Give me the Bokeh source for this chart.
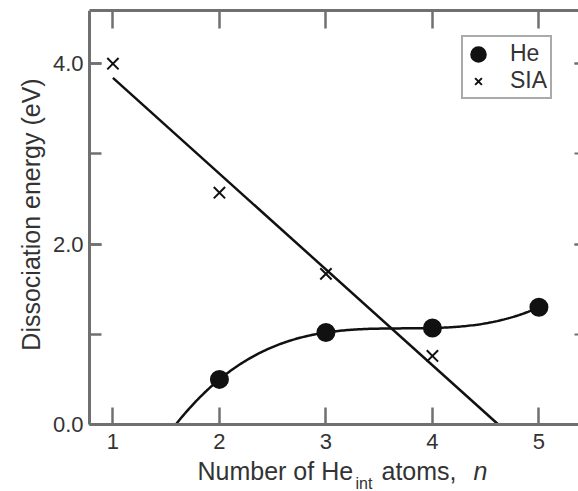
import numpy as np
from bokeh.plotting import figure
from bokeh.models import (Range1d, FixedTicker, SingleIntervalTicker, LinearAxis,
                          Label, Legend, LegendItem, CustomJSTickFormatter)
from bokeh.embed import file_html
from bokeh.resources import INLINE

# ---- data ----
he_n = [2, 3, 4, 5]
he_e = [0.50, 1.02, 1.07, 1.30]
sia_n = [1, 2, 3, 4]
sia_e = [4.00, 2.57, 1.67, 0.76]
x_ticks = [1, 2, 3, 4, 5]

FONT = "Liberation Sans"
AXC = "#707070"
TXT = "#333333"

W, H = 578, 491
BT = 10                 # room above the frame for the top axis
AX_LEFT_PX = 89         # where the left axis sits on the canvas
AX_ZERO_PX = 424        # where y=0 sits on the canvas
PX_X = 106.5            # px per x unit
PX_Y = 414 / 4.59       # px per y unit
XA = 0.78               # x value at the left axis
Y1 = 4.59
X0 = XA - AX_LEFT_PX / PX_X
X1 = XA + (W - AX_LEFT_PX) / PX_X
Y0 = -(H - AX_ZERO_PX) / PX_Y

p = figure(width=W, height=H, output_backend="svg", toolbar_location=None,
           x_range=Range1d(X0, X1), y_range=Range1d(Y0, Y1),
           min_border_left=0, min_border_right=0, min_border_top=BT, min_border_bottom=0)
p.outline_line_color = None
p.grid.visible = False
p.background_fill_color = "white"

# fits drawn from the data arrays
sia_fit = np.polyfit(sia_n, sia_e, 1)
sia_root = -sia_fit[1] / sia_fit[0]
sx = np.array([sia_n[0], sia_root])
p.line(sx, np.polyval(sia_fit, sx), line_color="#111111", line_width=2.5)

he_fit = np.polyfit(he_n, he_e, 3)
roots = [r.real for r in np.roots(he_fit) if abs(r.imag) < 1e-9 and 1 < r.real < he_n[0]]
hx = np.linspace(roots[0], he_n[-1], 200)
p.line(hx, np.polyval(he_fit, hx), line_color="#111111", line_width=2.5)

r_he = p.scatter(he_n, he_e, marker="circle", size=12, line_width=7,
                 fill_color="#111111", line_color="#111111")
r_sia = p.scatter(sia_n, sia_e, marker="x", size=16, line_color="#111111", line_width=2)

# axes
xa = p.xaxis[0]
xa.ticker = FixedTicker(ticks=x_ticks)
xa.fixed_location = 0
xa.bounds = (XA, X1)
ya = p.yaxis[0]
ya.ticker = SingleIntervalTicker(interval=2, num_minor_ticks=2)
ya.formatter = CustomJSTickFormatter(code="return tick.toFixed(1);")
ya.fixed_location = XA
ya.bounds = (0, Y1)
for ax in (xa, ya):
    ax.axis_line_color = AXC
    ax.axis_line_width = 3
    ax.major_tick_line_color = AXC
    ax.major_tick_line_width = 2.5
    ax.minor_tick_line_color = AXC
    ax.minor_tick_line_width = 2.5
    ax.major_tick_out = 0
    ax.minor_tick_out = 0
    ax.major_label_text_font = FONT
    ax.major_label_text_font_size = "22px"
    ax.major_label_text_color = TXT
xa.major_tick_in = 17
xa.minor_tick_in = 0
xa.major_label_standoff = 9
ya.major_tick_in = 12
ya.minor_tick_in = 12
ya.major_label_standoff = 6

top = LinearAxis(ticker=FixedTicker(ticks=x_ticks), bounds=(XA, X1),
                 formatter=CustomJSTickFormatter(code="return '';"),
                 axis_line_color=AXC, axis_line_width=3, major_tick_line_color=AXC,
                 major_tick_line_width=2.5, major_tick_in=18, major_tick_out=0,
                 minor_tick_line_color=None, major_label_standoff=0)
p.add_layout(top, "above")

right = LinearAxis(ticker=SingleIntervalTicker(interval=2, num_minor_ticks=2),
                   fixed_location=X1, bounds=(0.5, Y1),
                   formatter=CustomJSTickFormatter(code="return '';"),
                   axis_line_color=None, major_tick_line_color=AXC, major_tick_line_width=2,
                   minor_tick_line_color=AXC, minor_tick_line_width=2,
                   major_tick_in=4, major_tick_out=0, minor_tick_in=4, minor_tick_out=0,
                   major_label_standoff=0)
p.add_layout(right, "right")

# axis titles as text (x title has a subscript and an italic n)
def dx(px):  # px right of the left axis -> data x
    return XA + px / PX_X
def dy(px):  # px below the y=0 line -> data y
    return -px / PX_Y

lab_kw = dict(text_font=FONT, text_color=TXT, text_baseline="alphabetic", text_align="left")
p.add_layout(Label(x=dx(108), y=dy(46), text="Number of He", text_font_size="25px", **lab_kw))
p.add_layout(Label(x=dx(266), y=dy(59), text="int", text_font_size="16px", **lab_kw))
p.add_layout(Label(x=dx(292), y=dy(46), text="atoms,", text_font_size="25px", **lab_kw))
p.add_layout(Label(x=dx(384), y=dy(46), text="n", text_font_size="25px",
                   text_font_style="italic", **lab_kw))
p.add_layout(Label(x=dx(-59), y=dy(-210), text="Dissociation energy (eV)",
                   angle=np.pi / 2, text_font=FONT, text_font_size="25px", text_color=TXT,
                   text_align="center", text_baseline="middle"))

legend = Legend(items=[LegendItem(label="He", renderers=[r_he]),
                       LegendItem(label="SIA", renderers=[r_sia])],
                location=(461, 392), border_line_color="#555555", border_line_width=2.5,
                label_text_font=FONT, label_text_font_size="23px", label_text_color=TXT,
                padding=3, spacing=0, glyph_width=24, glyph_height=24,
                label_standoff=20, margin=0, label_height=24, background_fill_alpha=1)
p.add_layout(legend, "center")

open("out.html", "w").write(file_html(p, INLINE))
